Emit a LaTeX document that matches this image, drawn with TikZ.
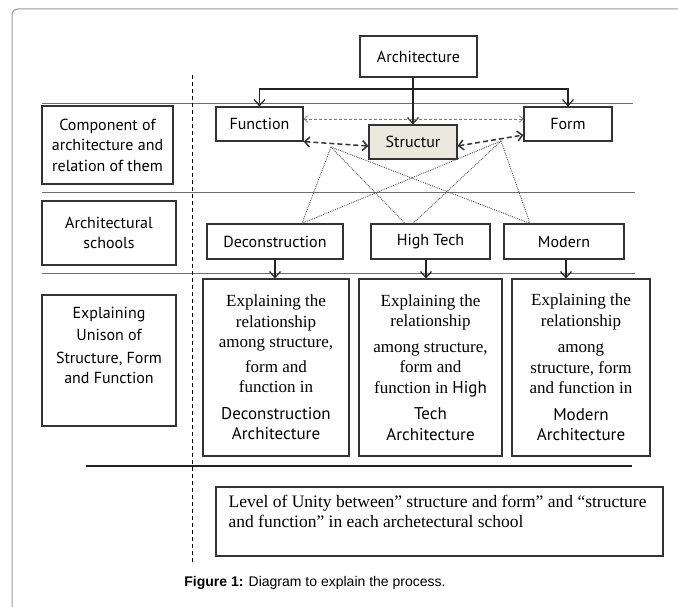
\documentclass[tikz,border=0pt]{standalone}
\usepackage{fontspec}
\setmainfont{Liberation Serif}
\setsansfont{PT Sans}
\newfontfamily\capfont{Liberation Sans}
\usetikzlibrary{arrows.meta}

\begin{document}
\begin{tikzpicture}[x=1pt,y=1pt,yscale=-1,xscale=1,
  box/.style={draw={rgb, 255:red, 51; green, 51; blue, 51 },line width=1.2pt,inner sep=0pt,align=center},
  topfont/.style={font=\sffamily\fontsize{16}{20.5}\selectfont},
  expfont/.style={font=\rmfamily\fontsize{17}{20.5}\selectfont},
  arr/.style={-{Straight Barb[length=6pt,width=11pt]},line width=1.2pt,draw={rgb, 255:red, 34; green, 34; blue, 34 }},
  thinlink/.style={{Straight Barb[length=4pt,width=7pt]}-{Straight Barb[length=4pt,width=7pt]},densely dashed,line width=0.6pt,draw={rgb, 255:red, 120; green, 120; blue, 120 }},
  thicklink/.style={{Straight Barb[length=5pt,width=10pt]}-{Straight Barb[length=5pt,width=10pt]},dash pattern=on 5pt off 3pt,line width=1.5pt,draw={rgb, 255:red, 51; green, 51; blue, 51 }},
  dotlink/.style={densely dotted,line width=0.9pt,draw={rgb, 255:red, 85; green, 85; blue, 85 }},
  rule/.style={line width=0.8pt,draw={rgb, 255:red, 110; green, 110; blue, 110 }}]
\useasboundingbox (0,0) rectangle (678,607);

%Frame
\draw [draw={rgb, 255:red, 155; green, 155; blue, 155 },line width=1pt,rounded corners=6pt] (12,607) -- (12,9) -- (678,9) ;

%Straight Lines
\draw [rule] (42,103) -- (633,103) ;
\draw [rule] (42,192) -- (635,192) ;
\draw [rule] (42,273) -- (635,273) ;
\draw [line width=1.2pt,draw={rgb, 255:red, 34; green, 34; blue, 34 }] (86,466) -- (632,466) ;
%Dashed Line
\draw [line width=1pt,dash pattern=on 4pt off 3pt] (192,75) -- (192,565) ;

%Left column
\node [box,topfont,minimum width=131pt,minimum height=78pt] (comp) at (107.5,145) {Component of\\ architecture and\\ relation of them};
\node [box,topfont,minimum width=134pt,minimum height=64pt] (schools) at (109,233) {Architectural\\ schools};
\node [box,minimum width=134pt,minimum height=131pt] (unison) at (109,360.5) {};
% Text Node
\node [topfont,align=center,anchor=north] (unisontext) at ([yshift=9pt]unison.north) {Explaining\\[2pt] Unison of\\[2pt] Structure, Form\\ and Function};

%Components
\node [box,topfont,minimum width=117pt,minimum height=41pt] (arch) at (418.5,56.5) {Architecture};
\node [box,topfont,minimum width=87pt,minimum height=34pt] (func) at (259.5,124) {Function};
\node [box,topfont,minimum width=88pt,minimum height=34pt] (form) at (568,124) {Form};
\node [box,topfont,minimum width=88pt,minimum height=34pt,fill={rgb, 255:red, 235; green, 233; blue, 222 }] (struct) at (413,142) {Structur};

%Schools
\node [box,topfont,minimum width=136pt,minimum height=35pt] (decon) at (275,241.5) {Deconstruction};
\node [box,topfont,minimum width=119pt,minimum height=35pt] (hitech) at (430.5,241.5) {High Tech};
\node [box,topfont,minimum width=120pt,minimum height=35pt] (modern) at (564,241.5) {Modern};

%Explaining boxes
\node [box,expfont,minimum width=146pt,minimum height=177pt] (expdecon) at (276,367.5) {Explaining the\\ relationship\\ among structure,\\[4pt] form and\\ function in\\[6pt] \textsf{Deconstruction}\\ \textsf{Architecture}};
\node [box,expfont,minimum width=143pt,minimum height=177pt] (exphitech) at (430.5,367.5) {Explaining the\\ relationship\\[5pt] among structure,\\ form and\\ function in \textsf{High}\\[6pt] \textsf{Tech}\\ \textsf{Architecture}};
\node [box,expfont,minimum width=138pt,minimum height=177pt] (expmodern) at (581,367.5) {Explaining the\\ relationship\\[6pt] among\\ structure, form\\ and function in\\[6pt] \textsf{Modern}\\ \textsf{Architecture}};

%Unity box
\node [box,minimum width=447pt,minimum height=69pt] (unity) at (439.5,521.5) {};
% Text Node
\node [font=\rmfamily\fontsize{17.5}{20}\selectfont,align=left,anchor=north west,inner sep=0pt] (unitytext) at ([xshift=13pt,yshift=9pt]unity.north west) {Level of Unity between” structure and form” and “structure\\ and function” in each archetectural school};

%Arrows from Architecture
\coordinate (split) at (struct.north |- 0,89);
\draw [arr] (struct.north |- arch.south) -- (struct.north) ;
\draw [arr] (split) -| (func.north) ;
\draw [arr] (split) -| (form.north) ;

%Relations
\draw [thinlink] ([yshift=-5pt]func.east) -- ([yshift=-5pt]form.west) ;
\draw [thicklink] (func.south east) -- ([yshift=4pt]struct.west) ;
\draw [thicklink] ([yshift=4pt]struct.east) -- ([yshift=11pt]form.west) ;
\coordinate (lknot) at (331,147);
\coordinate (rknot) at (501,141);
\draw [dotlink] (lknot) -- ([xshift=27pt]decon.north) ;
\draw [dotlink] (lknot) -- ([xshift=-25.5pt]hitech.north) ;
\draw [dotlink] (lknot) -- ([xshift=-34pt]modern.north) ;
\draw [dotlink] (rknot) -- ([xshift=27pt]decon.north) ;
\draw [dotlink] (rknot) -- ([xshift=-17.5pt]hitech.north) ;
\draw [dotlink] (rknot) -- ([xshift=-34pt]modern.north) ;

%Arrows to explaining boxes
\draw [arr] (decon.south) -- (decon.south |- expdecon.north) ;
\draw [arr] ([xshift=-4.5pt]hitech.south) -- ([xshift=-4.5pt]hitech.south |- exphitech.north) ;
\draw [arr] ([xshift=2pt]modern.south) -- ([xshift=2pt]modern.south |- expmodern.north) ;

% Text Node
\node [font=\capfont\fontsize{14}{16}\selectfont] (caption) at (315,583) {\textbf{Figure 1:} Diagram to explain the process.};

\end{tikzpicture}
\end{document}
